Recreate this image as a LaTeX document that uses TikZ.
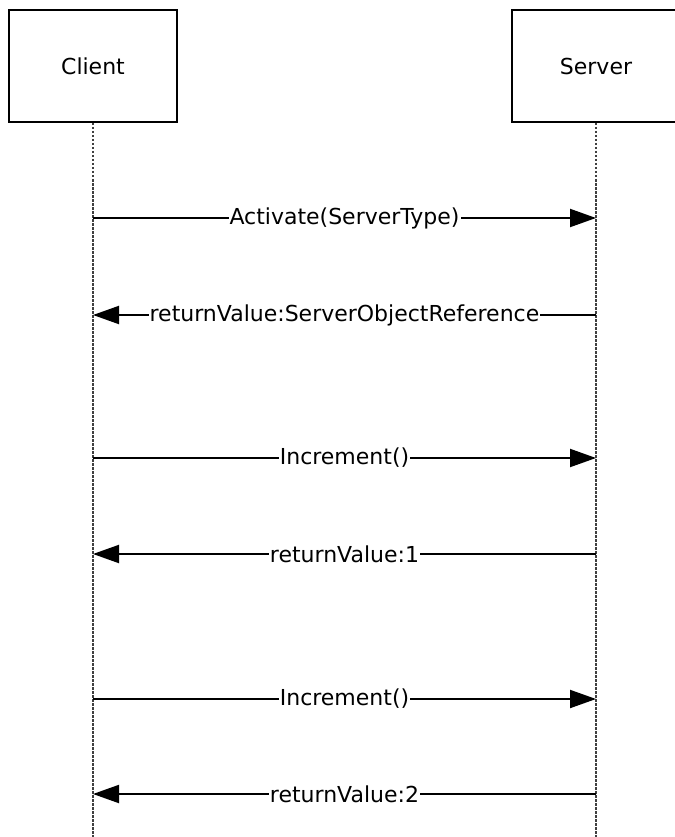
\documentclass[tikz,border=0pt]{standalone}
\usepackage{fontspec}
\setmainfont{DejaVu Sans}
\usetikzlibrary{arrows.meta}

\begin{document}
\begin{tikzpicture}[x=1pt,y=-1pt,
	actor/.style={draw,line width=2pt,minimum width=168pt,minimum height=112pt,inner sep=0,font=\fontsize{22}{26}\selectfont},
	lifeline/.style={line width=2pt,dash pattern=on 2.5pt off 1.5pt,black!75},
	msg/.style={line width=2pt,-{Triangle[length=26pt,width=18pt]}},
	msglabel/.style={fill=white,inner sep=1pt,font=\fontsize{22}{26}\selectfont}]
	\useasboundingbox (0,0) rectangle (674,837);
	\node[actor] (client) at (93,66) {Client};
	\node[actor] (server) at (596,66) {Server};
	\coordinate (clientend) at (93,837);
	\coordinate (serverend) at (596,837);
	\draw[lifeline] (client.south) -- (clientend);
	\draw[lifeline] (server.south) -- (serverend);
	\coordinate (c1) at (93,218);
	\coordinate (s1) at (596,218);
	\coordinate (c2) at (93,315);
	\coordinate (s2) at (596,315);
	\coordinate (c3) at (93,458);
	\coordinate (s3) at (596,458);
	\coordinate (c4) at (93,554);
	\coordinate (s4) at (596,554);
	\coordinate (c5) at (93,699);
	\coordinate (s5) at (596,699);
	\coordinate (c6) at (93,794);
	\coordinate (s6) at (596,794);
	\draw[msg] (c1) -- node[msglabel] {Activate(ServerType)} (s1);
	\draw[msg] (s2) -- node[msglabel] {returnValue:ServerObjectReference} (c2);
	\draw[msg] (c3) -- node[msglabel] {Increment()} (s3);
	\draw[msg] (s4) -- node[msglabel] {returnValue:1} (c4);
	\draw[msg] (c5) -- node[msglabel] {Increment()} (s5);
	\draw[msg] (s6) -- node[msglabel] {returnValue:2} (c6);
\end{tikzpicture}
\end{document}
